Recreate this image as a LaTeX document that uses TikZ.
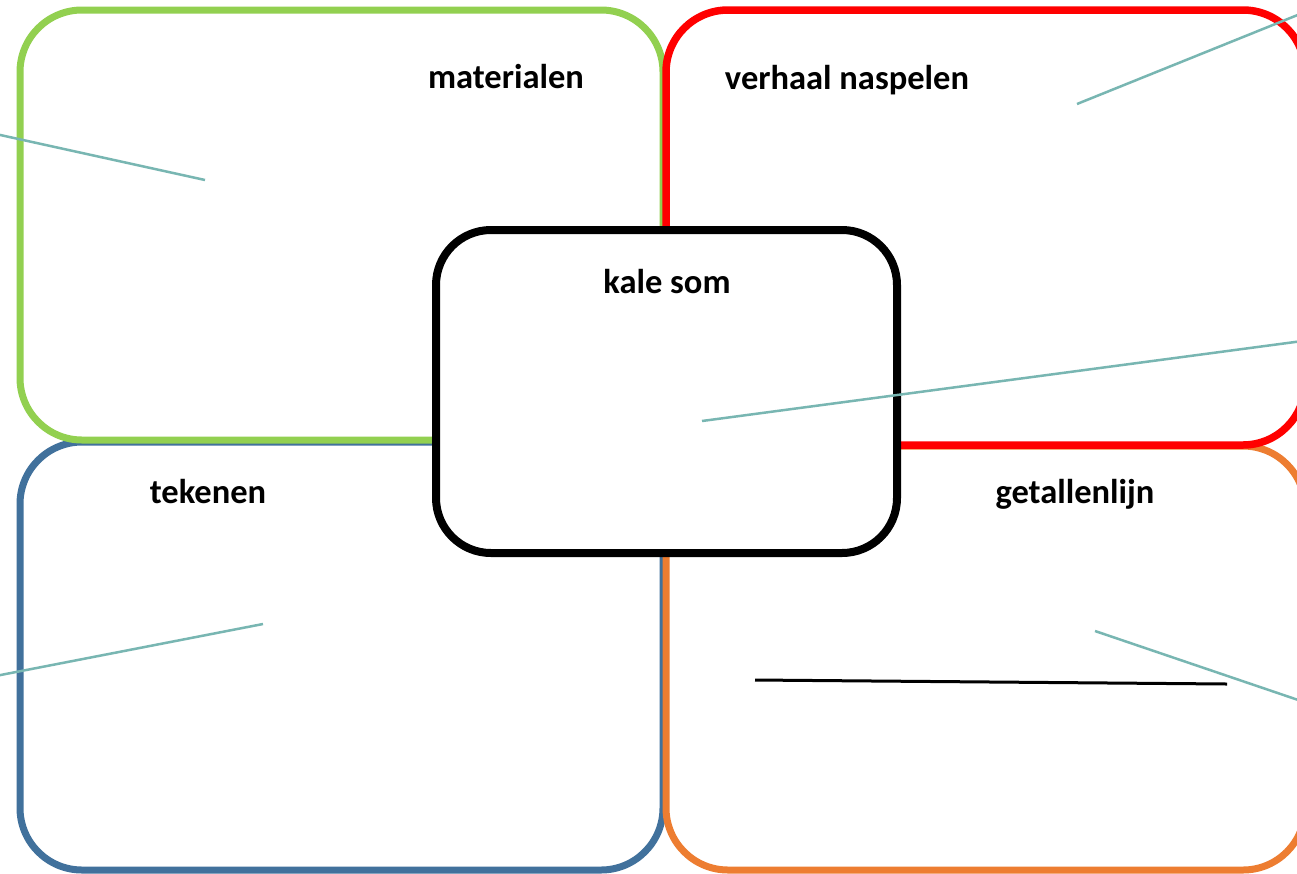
\documentclass[tikz,border=0pt]{standalone}
\usepackage{fontspec}
\setmainfont{Carlito}
\definecolor{cgreen}{RGB}{146,208,80}
\definecolor{cred}{RGB}{255,0,0}
\definecolor{cblue}{RGB}{65,113,156}
\definecolor{corange}{RGB}{237,125,49}
\definecolor{cteal}{RGB}{120,182,178}
\begin{document}
\begin{tikzpicture}[x=1pt,y=-1pt,
  quad/.style={draw, line width=7pt, rounded corners=62pt, inner sep=0pt, outer sep=0pt, fill=none},
  centre/.style={draw=black, line width=8pt, rounded corners=55pt, fill=white, inner sep=0pt, outer sep=0pt},
  lbl/.style={font=\fontsize{34.5}{40}\selectfont\bfseries, inner sep=0pt, anchor=base},
  tealline/.style={draw=cteal, line width=2.5pt},
  blackline/.style={draw=black, line width=3pt}]
\useasboundingbox (0,0) rectangle (1297,873);
\fill[white] (0,0) rectangle (1297,873);
\clip (0,0) rectangle (1297,873);
% quadrants
\node[quad, draw=cblue, minimum width=643pt, minimum height=428pt] (tek) at (341.5,656) {};
\node[quad, draw=cgreen, minimum width=643pt, minimum height=430pt] (mat) at (341.5,225) {};
\node[quad, draw=corange, minimum width=639pt, minimum height=424pt] (get) at (985.5,658) {};
\node[quad, draw=cred, line width=7.5pt, minimum width=639pt, minimum height=435pt] (ver) at (985.5,227.5) {};
% centre
\node[centre, minimum width=461pt, minimum height=323pt] (kale) at (666.5,391.5) {};
% labels
\node[lbl] (tmat) at (506,88) {materialen};
\node[lbl] (tver) at (847,89) {verhaal naspelen};
\node[lbl] (tkale) at (667,293) {kale som};
\node[lbl] (ttek) at (208,503) {tekenen};
\node[lbl] (tget) at (1075,503) {getallenlijn};
% free lines
\coordinate (a1) at (-2,134.5); \coordinate (a2) at (205,180);
\coordinate (b1) at (1077,104); \coordinate (b2) at (1310,10);
\coordinate (c1) at (702,421); \coordinate (c2) at (1310,340);
\coordinate (d1) at (-2,675.5); \coordinate (d2) at (263,624);
\coordinate (e1) at (1095,631); \coordinate (e2) at (1310,704);
\coordinate (f1) at (755,680); \coordinate (f2) at (1227,684);
\draw[tealline] (a1) -- (a2);
\draw[tealline] (b1) -- (b2);
\draw[tealline] (c1) -- (c2);
\draw[tealline] (d1) -- (d2);
\draw[tealline] (e1) -- (e2);
\draw[blackline] (f1) -- (f2);
\end{tikzpicture}
\end{document}
